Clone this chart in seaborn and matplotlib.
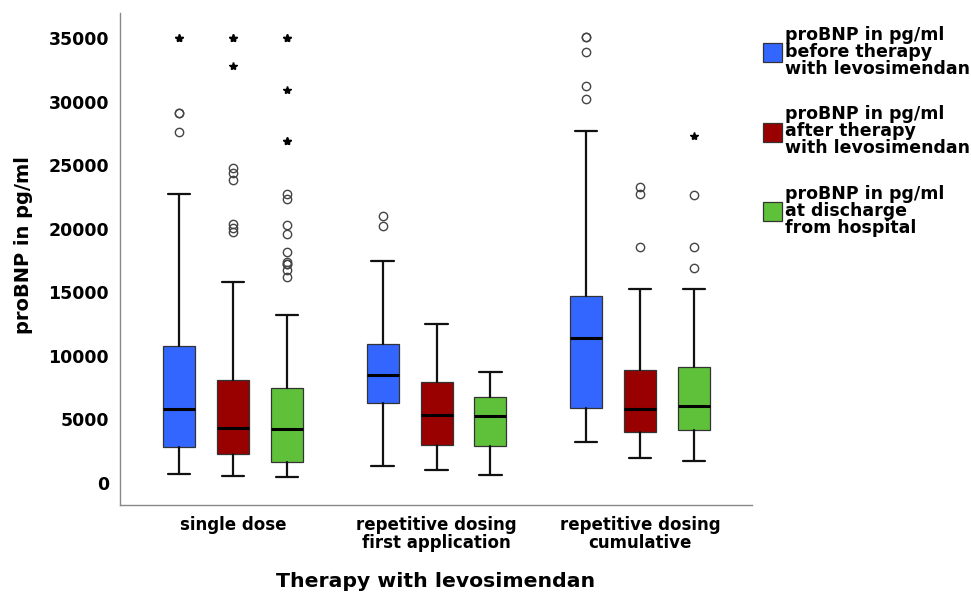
import numpy as np
import seaborn as sns
import matplotlib.pyplot as plt
from matplotlib.patches import Patch

# summary statistics (pg/ml)
groups = ['single dose', 'repetitive dosing\nfirst application', 'repetitive dosing\ncumulative']
series = ['proBNP in pg/ml\nbefore therapy\nwith levosimendan',
          'proBNP in pg/ml\nafter therapy\nwith levosimendan',
          'proBNP in pg/ml\nat discharge\nfrom hospital']
colors = ['#3366ff', '#990000', '#5fc13a']

# rows: series (before, after, discharge); columns: groups
whis_low = [[720, 1360, 3250], [575, 1000, 1970], [470, 650, 1750]]
q1 = [[2830, 6270, 5920], [2280, 2990, 4010], [1680, 2910, 4190]]
median = [[5820, 8470, 11430], [4350, 5350, 5820], [4250, 5250, 6060]]
q3 = [[10780, 10960, 14710], [8100, 7920, 8890], [7450, 6740, 9120]]
whis_high = [[22700, 17460, 27710], [15790, 12500, 15280], [13210, 8760, 15280]]

# mild outliers (circles) and extreme outliers (stars)
circles = [
    [[29100, 29100, 27630], [21000, 20210], [35100, 35100, 33920, 31220, 30180]],
    [[24800, 24360, 23830, 20350, 20030, 19720], [], [23260, 22730, 18540]],
    [[22700, 22310, 20290, 19560, 18140, 17360, 17200, 17200, 16750, 16230], [], [22680, 18540, 16890]],
]
stars = [
    [[35000, 35000], [], []],
    [[35000, 35000, 32820], [], []],
    [[35000, 35000, 30910, 26920, 26920], [], [27290]],
]

sns.set_style('white')
plt.rcParams['font.family'] = ['DejaVu Sans']
plt.rcParams['text.color'] = 'black'
plt.rcParams['axes.labelcolor'] = 'black'
plt.rcParams['xtick.color'] = 'black'
plt.rcParams['ytick.color'] = 'black'

fig = plt.figure(figsize=(9.71, 5.95), dpi=100)
ax = fig.add_axes([0.1236, 0.1513, 0.6509, 0.8267])

offsets = [-0.265, 0, 0.265]
width = 0.157
for s in range(3):
    stats = []
    pos = []
    for g in range(3):
        stats.append({'med': median[s][g], 'q1': q1[s][g], 'q3': q3[s][g],
                      'whislo': whis_low[s][g], 'whishi': whis_high[s][g],
                      'fliers': circles[s][g]})
        pos.append(g + offsets[s])
    ax.bxp(stats, positions=pos, widths=width, patch_artist=True, manage_ticks=False,
           capwidths=width * 0.7,
           boxprops=dict(facecolor=colors[s], edgecolor='#333333', linewidth=0.9),
           whiskerprops=dict(color='#111111', linewidth=1.6),
           capprops=dict(color='#111111', linewidth=1.6),
           medianprops=dict(color='black', linewidth=2.2),
           flierprops=dict(marker='o', markerfacecolor='none', markeredgecolor='#444444',
                           markersize=6, markeredgewidth=1.0))
    for g in range(3):
        if stars[s][g]:
            ax.plot([g + offsets[s]] * len(stars[s][g]), stars[s][g], linestyle='none',
                    marker='*', color='black', markersize=6)

ax.set_xlim(-0.555, 2.55)
ax.set_ylim(-1730, 36970)
ax.set_xticks(range(3))
ax.set_xticklabels(groups, fontsize=12, fontweight='bold', linespacing=1.0)
ax.set_yticks(range(0, 35001, 5000))
ax.set_yticklabels([str(v) for v in range(0, 35001, 5000)], fontsize=12.5, fontweight='bold')
ax.tick_params(axis='both', length=0)
ax.tick_params(axis='y', pad=8)
ax.tick_params(axis='x', pad=8)
ax.set_xlabel('Therapy with levosimendan', fontsize=14.7, fontweight='bold', labelpad=14)
ax.set_ylabel('proBNP in pg/ml', fontsize=14, fontweight='bold')
ax.yaxis.set_label_coords(-0.138, 0.528)

sns.despine(ax=ax)
for sp in ['left', 'bottom']:
    ax.spines[sp].set_color('#888888')
    ax.spines[sp].set_linewidth(1.0)

handles = [Patch(facecolor=c, edgecolor='#333333', linewidth=0.9) for c in colors]
leg = fig.legend(handles, series, loc='upper left', bbox_to_anchor=(0.770, 0.983),
                 frameon=False, handlelength=1.1, handleheight=1.3, handletextpad=0.15,
                 labelspacing=1.6, prop={'size': 12.5, 'weight': 'bold'})
for t in leg.get_texts():
    t.set_linespacing(0.92)

fig.savefig('out.png', dpi=100)
